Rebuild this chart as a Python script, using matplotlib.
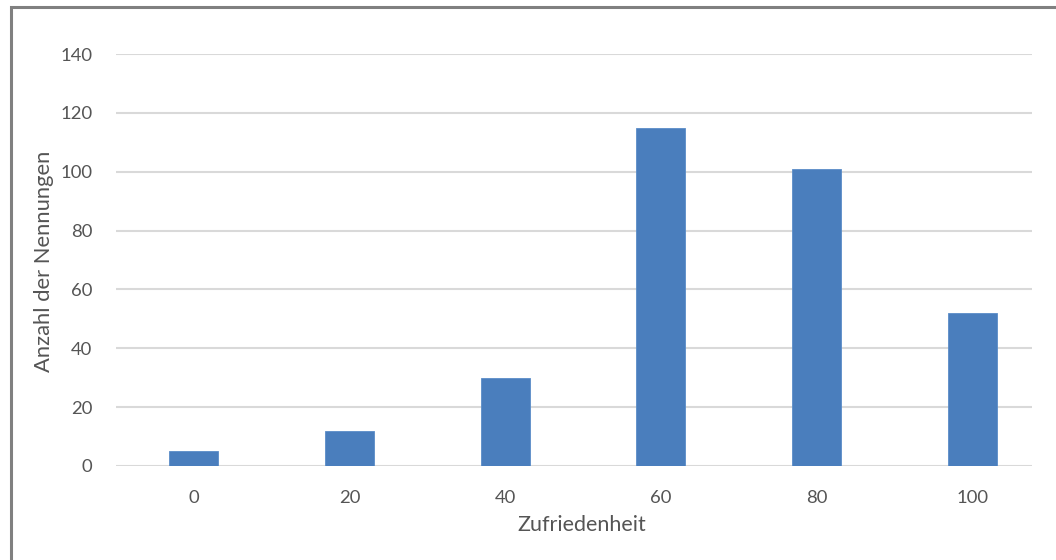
import matplotlib
matplotlib.use("Agg")
import matplotlib.pyplot as plt
from matplotlib.patches import Rectangle

plt.rcParams['font.family'] = ['Lato', 'DejaVu Sans']

# Satisfaction score categories and number of mentions per category
categories = ["0", "20", "40", "60", "80", "100"]
counts = [5, 12, 30, 115, 101, 52]
y_ticks = [0, 20, 40, 60, 80, 100, 120, 140]

text_color = "#555555"
bar_color = "#4a7ebd"
grid_color = "#d9d9d9"

W, H = 1056, 560
fig = plt.figure(figsize=(W / 100, H / 100), dpi=100)
fig.patch.set_facecolor("white")

# Outer grey frame (runs off the right and bottom edges)
fig.add_artist(Rectangle((10.5 / W, -0.05), (1070 - 10) / W, 1.05 - 6.5 / H,
                         transform=fig.transFigure, fill=False,
                         edgecolor="#808080", linewidth=2.2))

ax = fig.add_axes([116 / W, 1 - 466 / H, (1032 - 116) / W, (466 - 54) / H])

x = list(range(len(categories)))
ax.bar(x, counts, width=0.315, color=bar_color, edgecolor="#5a8cc8",
       linewidth=0.6, zorder=3)

ax.set_xlim(-0.5, 5.385)
ax.set_ylim(0, 140)
ax.set_yticks(y_ticks)
ax.set_xticks(x)
ax.set_xticklabels(categories)

ax.yaxis.grid(True, color=grid_color, linewidth=1.5, zorder=0)
ax.set_axisbelow(True)
for side in ("top", "right", "left", "bottom"):
    ax.spines[side].set_visible(False)

ax.tick_params(axis="both", length=0, colors=text_color, labelsize=13.3)
ax.tick_params(axis="y", pad=17)
ax.tick_params(axis="x", pad=17)

fig.text(582 / W, 1 - 525 / H, "Zufriedenheit", ha="center", va="center",
         color=text_color, fontsize=15.5)
fig.text(44 / W, 1 - 261 / H, "Anzahl der Nennungen", ha="center", va="center",
         rotation=90, color=text_color, fontsize=15.8)

fig.savefig("out.png", dpi=100, facecolor="white")
